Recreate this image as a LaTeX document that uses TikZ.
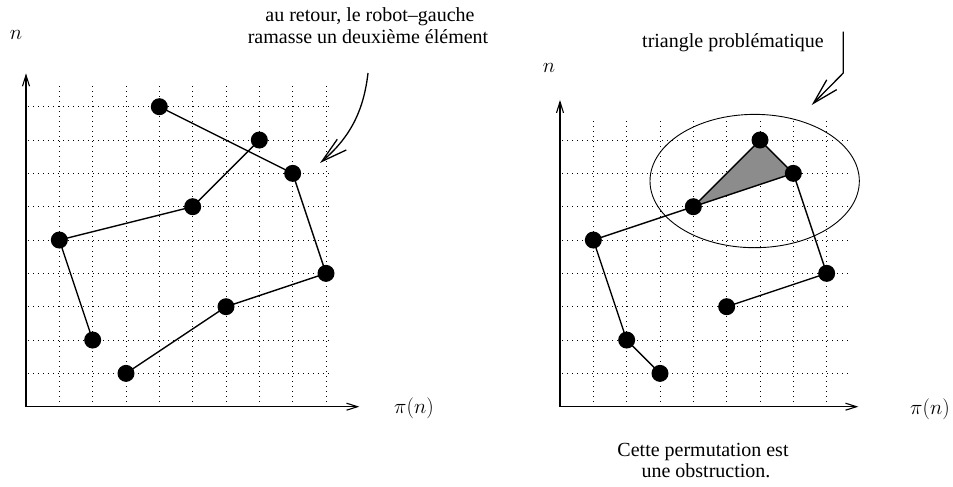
\documentclass[tikz,border=0pt]{standalone}
\usepackage{fix-cm}
\usepackage{fontspec}
\setmainfont{Liberation Serif}
\usetikzlibrary{arrows.meta}
\begin{document}
\begin{tikzpicture}[x=1pt,y=-1pt,
  gridline/.style={line width=0.8pt, dash pattern=on 0.8pt off 4.2pt},
  axis/.style={line width=1.1pt, -{Straight Barb[length=11pt,width=7pt,line width=1.1pt]}},
  dot/.style={circle, fill=black, inner sep=0pt, minimum size=17pt},
  edge/.style={line width=1.4pt},
  lbl/.style={font=\fontsize{20}{22}\selectfont, inner sep=0pt, anchor=base},
  mlbl/.style={font=\fontsize{21}{24}\selectfont, inner sep=0pt},
  pointer/.style={line width=1.3pt, -{Straight Barb[length=26pt,width=14pt,line width=1.3pt]}}
]
\useasboundingbox (0,0) rectangle (953,487);

% ---------------- left diagram ----------------
\begin{scope}[shift={(26,406.7)}, x=33.333pt, y=33.333pt]
  \foreach \i in {1,...,9} \draw[gridline] (\i,0) -- (\i,9.7);
  \foreach \j in {1,...,9} \draw[gridline] (0.06,\j) -- (9.12,\j);
  \coordinate (lo) at (0,0);
  \coordinate (lx) at (10,0);
  \coordinate (ly) at (0,10);
  \draw[axis] (lo) -- (lx);
  \draw[axis] (lo) -- (ly);
  \node[dot] (a1) at (4,9) {};
  \node[dot] (a2) at (7,8) {};
  \node[dot] (a3) at (8,7) {};
  \node[dot] (a4) at (5,6) {};
  \node[dot] (a5) at (1,5) {};
  \node[dot] (a6) at (9,4) {};
  \node[dot] (a7) at (6,3) {};
  \node[dot] (a8) at (2,2) {};
  \node[dot] (a9) at (3,1) {};
  \draw[edge] (a1.center) -- (a3.center) -- (a6.center) -- (a7.center) -- (a9.center);
  \draw[edge] (a2.center) -- (a4.center) -- (a5.center) -- (a8.center);
\end{scope}

% ---------------- right diagram ----------------
\begin{scope}[shift={(560,406.7)}, x=33.333pt, y=33.333pt]
  \foreach \i in {1,...,8} \draw[gridline] (\i,0) -- (\i,8.7);
  \foreach \j in {1,...,8} \draw[gridline] (0.06,\j) -- (8.7,\j);
  \coordinate (ro) at (0,0);
  \coordinate (rx) at (8.95,0);
  \coordinate (ry) at (0,9.2);
  \draw[axis] (ro) -- (rx);
  \draw[axis] (ro) -- (ry);
  \coordinate (t1) at (6,8);
  \coordinate (t2) at (7,7);
  \coordinate (t3) at (4,6);
  \fill[fill=black!45] (t1) -- (t2) -- (t3) -- cycle;
  \draw[line width=0.9pt] (5.84,6.77) ellipse [x radius=3.14, y radius=2];
  \node[dot] (b1) at (t1) {};
  \node[dot] (b2) at (t2) {};
  \node[dot] (b3) at (t3) {};
  \node[dot] (b4) at (1,5) {};
  \node[dot] (b5) at (8,4) {};
  \node[dot] (b6) at (5,3) {};
  \node[dot] (b7) at (2,2) {};
  \node[dot] (b8) at (3,1) {};
  \draw[edge] (b3.center) -- (b1.center) -- (b2.center) -- (b3.center);
  \draw[edge] (b2.center) -- (b5.center) -- (b6.center);
  \draw[edge] (b3.center) -- (b4.center) -- (b7.center) -- (b8.center);
\end{scope}

% ---------------- labels ----------------
\node[mlbl] (nl) at (16,35) {$n$};
\node[mlbl] (pl) at (414,408) {$\pi(n)$};
\node[mlbl] (nr) at (549,68) {$n$};
\node[mlbl] (pr) at (930,409) {$\pi(n)$};

\node[lbl] (tx1) at (370,22) {au retour, le robot–gauche};
\node[lbl] (tx2) at (368,44) {ramasse un deuxième élément};
\node[lbl] (tx3) at (733,48) {triangle problématique};
\node[lbl] (tx4) at (703,456) {Cette permutation est};
\node[lbl] (tx5) at (706,477) {une obstruction.};

% ---------------- pointers ----------------
\coordinate (p1s) at (368,73);
\coordinate (p1e) at (320,163);
\draw[pointer] (p1s) .. controls (364,108) and (352,136) .. (p1e);
\coordinate (p2s) at (843.3,31.7);
\coordinate (p2m) at (843.3,73);
\coordinate (p2e) at (811.7,105);
\draw[pointer] (p2s) -- (p2m) -- (p2e);
\end{tikzpicture}
\end{document}
